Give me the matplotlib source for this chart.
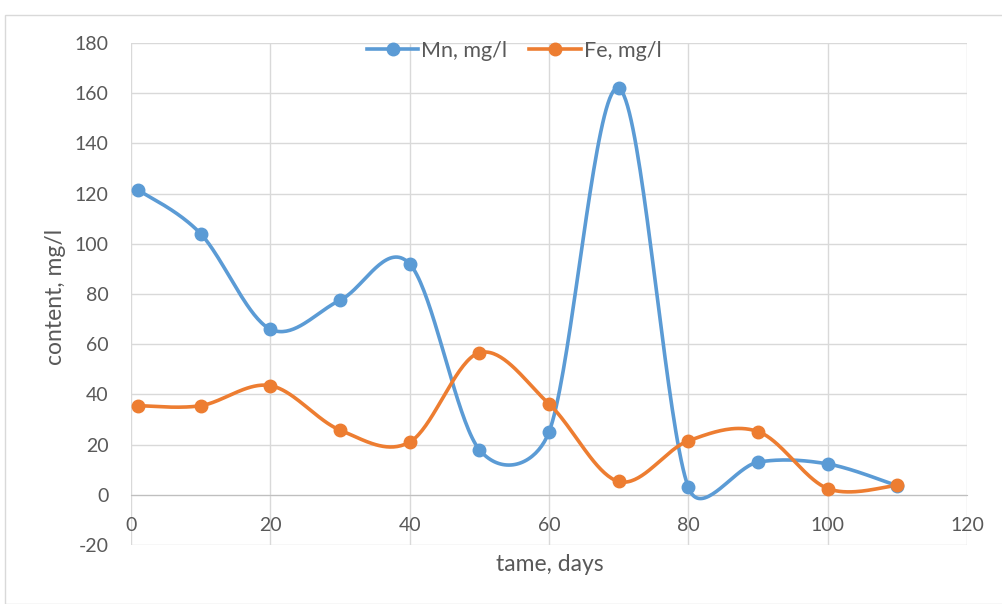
import numpy as np
import matplotlib.pyplot as plt
from matplotlib.patches import Rectangle

# data
days = [1, 10, 20, 30, 40, 50, 60, 70, 80, 90, 100, 110]
mn = [121.5, 104, 66, 77.5, 92, 18, 25, 162, 3, 13, 12.3, 3.6]
fe = [35.5, 35.5, 43.5, 25.8, 21, 56.6, 36.2, 5.3, 21.5, 25.2, 2.5, 3.8]

blue = '#5B9BD5'
orange = '#ED7D31'
txt = '#595959'

plt.rcParams['font.family'] = ['Lato', 'DejaVu Sans']
plt.rcParams['axes.unicode_minus'] = False


def excel_smooth(ax, xs, ys, n=40):
    # excel-like bezier smoothing, control arms capped at half segment (in pixels)
    pts = ax.transData.transform(np.column_stack([xs, ys]))
    m = len(pts)
    out = [pts[0]]
    for i in range(m - 1):
        p0 = pts[max(i - 1, 0)]
        p1 = pts[i]
        p2 = pts[i + 1]
        p3 = pts[min(i + 2, m - 1)]
        d12 = np.linalg.norm(p2 - p1)
        d02 = np.linalg.norm(p2 - p0)
        d13 = np.linalg.norm(p3 - p1)
        if d02 / 6 < d12 / 2 or d02 == 0:
            c1 = p1 + (p2 - p0) / 6
        else:
            c1 = p1 + (p2 - p0) * (d12 / 2) / d02
        if d13 / 6 < d12 / 2 or d13 == 0:
            c2 = p2 - (p3 - p1) / 6
        else:
            c2 = p2 - (p3 - p1) * (d12 / 2) / d13
        t = np.linspace(0, 1, n)[1:, None]
        seg = ((1 - t) ** 3) * p1 + 3 * ((1 - t) ** 2) * t * c1 + 3 * (1 - t) * t ** 2 * c2 + t ** 3 * p2
        out.extend(seg)
    out = np.array(out)
    return ax.transData.inverted().transform(out)


fig = plt.figure(figsize=(10.02, 6.04), dpi=100)
fig.patches.append(Rectangle((5 / 1002, 0), 1, 1 - 15 / 604, transform=fig.transFigure,
                             fill=False, edgecolor='#d9d9d9', linewidth=1))
ax = fig.add_axes([131 / 1002, 1 - 545 / 604, (967 - 131) / 1002, (545 - 43) / 604])

ax.set_xlim(0, 120)
ax.set_ylim(-20, 180)
ax.set_xticks(range(0, 121, 20))
ax.set_yticks(range(-20, 181, 20))

ax.grid(True, color='#d9d9d9', linewidth=1)
ax.set_axisbelow(True)
for s in ['top', 'right', 'left']:
    ax.spines[s].set_visible(False)
ax.spines['bottom'].set_position(('data', 0))
ax.spines['bottom'].set_color('#bfbfbf')
ax.spines['bottom'].set_zorder(1)
ax.tick_params(axis='both', length=0, labelsize=14, labelcolor=txt)
ax.tick_params(axis='x', pad=16)
ax.tick_params(axis='y', pad=16)

fig.canvas.draw()
for ys, col, lab in [(mn, blue, 'Mn, mg/l'), (fe, orange, 'Fe, mg/l')]:
    curve = excel_smooth(ax, days, ys)
    ax.plot(curve[:, 0], curve[:, 1], color=col, linewidth=2.6, solid_capstyle='round', zorder=3)
    ax.plot(days, ys, linestyle='none', marker='o', markersize=9, color=col, zorder=4)
    ax.plot([], [], color=col, linewidth=2.6, marker='o', markersize=9, label=lab)

ax.set_xlabel('tame, days', fontsize=16.5, color=txt, va='top')
ax.set_ylabel('content, mg/l', fontsize=16.5, color=txt)
ax.xaxis.set_label_coords(0.5006, -0.018)
ax.yaxis.set_label_coords(-0.078, 0.494)

ax.legend(loc='center', bbox_to_anchor=(514 / 1002, 1 - 51 / 604), bbox_transform=fig.transFigure,
          ncol=2, frameon=False, fontsize=15.5, handlelength=2.4, handletextpad=0.14,
          columnspacing=1.0, labelcolor=txt)

plt.savefig('out.png', dpi=100)
